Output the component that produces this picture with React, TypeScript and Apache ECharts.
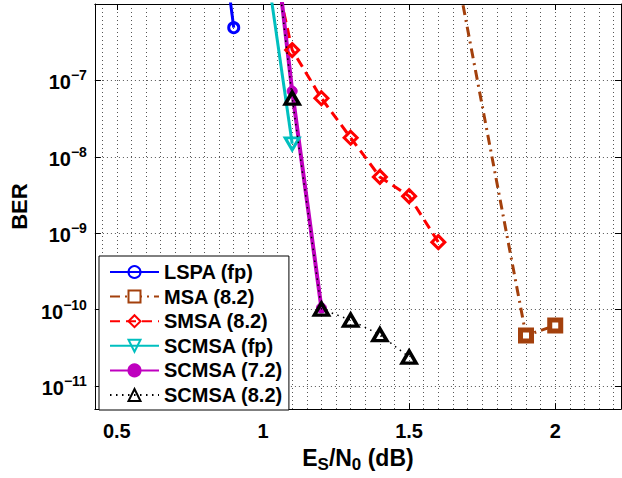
import React, { useEffect, useRef } from "react";
import * as echarts from "echarts";

// ---- data ----
const seriesNames = ["LSPA (fp)", "MSA (8.2)", "SMSA (8.2)", "SCMSA (fp)", "SCMSA (7.2)", "SCMSA (8.2)"];

const lspaX = [0.8, 0.9];
const lspaY = [4.7e-4, 4.9e-7];

const msaX = [1.6, 1.9, 2.0];
const msaY = [4.8e-5, 4.6e-11, 6.2e-11];

const smsaX = [1.0, 1.1, 1.2, 1.3, 1.4, 1.5, 1.6];
const smsaY = [1.3e-5, 2.5e-7, 5.85e-8, 1.78e-8, 5.46e-9, 3.06e-9, 7.65e-10];

const scmsaFpX = [1.0, 1.1];
const scmsaFpY = [6.8e-6, 1.48e-8];

const scmsa72X = [1.0, 1.1, 1.2];
const scmsa72Y = [1.5e-4, 7.25e-8, 1.05e-10];

const scmsa82X = [1.0, 1.1, 1.2, 1.3, 1.4, 1.5];
const scmsa82Y = [1.5e-4, 5.85e-8, 1.02e-10, 7.3e-11, 4.7e-11, 2.4e-11];

const xMin = 0.425;
const xMax = 2.225;
const yMin = 5e-12;
const yMax = 1e-6;
const minorMultipliers = [2, 3, 4, 5, 6, 7, 8, 9];
const decades = [-12, -11, -10, -9, -8, -7, -6];

const FONT = "Liberation Sans, Arial, Helvetica, sans-serif";

const zip = (xs: number[], ys: number[]) => xs.map((x, i) => [x, ys[i]]);

export default function App() {
  const ref = useRef<HTMLDivElement>(null);

  useEffect(() => {
    if (!ref.current) return;
    const chart = echarts.init(ref.current, undefined, { renderer: "svg" });

    const gridLine = { type: [1, 3] as number[], color: "#555", width: 1 };

    const minorYValues: number[] = [];
    decades.forEach((d) => {
      minorMultipliers.forEach((m) => {
        const v = m * Math.pow(10, d);
        if (v > yMin && v < yMax) minorYValues.push(v);
      });
    });

    const xAxisBase = {
      type: "value" as const,
      min: xMin,
      max: xMax,
      splitNumber: 4,
      axisLine: { show: true, onZero: false, lineStyle: { color: "#000", width: 1 } },
      axisTick: { show: true, inside: true, length: 6, lineStyle: { color: "#000", width: 1 } },
    };

    const yAxisBase = {
      type: "log" as const,
      logBase: 10,
      min: yMin,
      max: yMax,
      axisLine: { show: true, onZero: false, lineStyle: { color: "#000", width: 1 } },
      axisTick: { show: true, inside: true, length: 6, lineStyle: { color: "#000", width: 1 } },
    };

    const option: any = {
      animation: false,
      backgroundColor: "#fff",
      grid: { left: 90, right: 1, top: 4, bottom: 58, containLabel: false },
      legend: {
        orient: "vertical",
        left: 99,
        top: 256,
        data: seriesNames,
        backgroundColor: "#fff",
        borderColor: "#000",
        borderWidth: 1,
        borderRadius: 0,
        padding: [6, 6, 5, 10],
        itemGap: 4.6,
        itemWidth: 49,
        itemHeight: 15,
        textStyle: { fontSize: 20, fontWeight: "bold", color: "#000", fontFamily: FONT, lineHeight: 20 },
        selectedMode: false,
      },
      xAxis: [
        {
          ...xAxisBase,
          position: "bottom",
          name: "{b|E}{s|S}{b|/N}{s|0}{b| (dB)}",
          nameLocation: "middle",
          nameGap: 20,
          nameTextStyle: {
            rich: {
              b: { fontSize: 23, fontWeight: "bold", fontFamily: FONT, color: "#000", verticalAlign: "top", lineHeight: 27 },
              s: { fontSize: 17, fontWeight: "bold", fontFamily: FONT, color: "#000", verticalAlign: "bottom", lineHeight: 27 },
            },
          },
          axisLabel: {
            show: true,
            margin: 12,
            fontSize: 20,
            fontWeight: "bold",
            fontFamily: FONT,
            color: "#000",
            showMinLabel: false,
            showMaxLabel: false,
          },
          splitLine: { show: true, lineStyle: gridLine },
          minorTick: { show: false, splitNumber: 10 },
          minorSplitLine: { show: true, lineStyle: gridLine },
        },
        {
          ...xAxisBase,
          position: "top",
          axisLabel: { show: false },
          splitLine: { show: false },
        },
      ],
      yAxis: [
        {
          ...yAxisBase,
          position: "left",
          name: "BER",
          nameLocation: "middle",
          nameRotate: 90,
          nameGap: 62,
          nameTextStyle: { fontSize: 22, fontWeight: "bold", fontFamily: FONT, color: "#000" },
          axisLabel: {
            show: true,
            margin: 8,
            showMinLabel: false,
            showMaxLabel: false,
            formatter: (v: number) => {
              if (v >= yMax * 0.999 || v <= yMin * 1.001) return "";
              const e = Math.round(Math.log10(v));
              return "{b|10}{p|\u2212" + Math.abs(e) + "}";
            },
            rich: {
              b: { fontSize: 20, fontWeight: "bold", fontFamily: FONT, color: "#000", verticalAlign: "bottom", lineHeight: 24 },
              p: { fontSize: 14, fontWeight: "bold", fontFamily: FONT, color: "#000", verticalAlign: "top", lineHeight: 14 },
            },
          },
          splitLine: { show: true, lineStyle: gridLine },
          minorTick: { show: false },
          minorSplitLine: { show: false },
        },
        {
          ...yAxisBase,
          position: "right",
          axisLabel: { show: false },
          splitLine: { show: false },
        },
      ],
      series: [
        {
          name: "__minorGrid",
          type: "line",
          data: [],
          z: 1,
          silent: true,
          symbol: "none",
          markLine: {
            silent: true,
            symbol: "none",
            animation: false,
            label: { show: false },
            emphasis: { disabled: true },
            lineStyle: gridLine,
            data: minorYValues.map((v) => ({ yAxis: v })),
          },
        },
        {
          name: seriesNames[0],
          type: "line",
          data: zip(lspaX, lspaY),
          z: 3,
          symbol: "circle",
          symbolSize: 10,
          lineStyle: { color: "#0000ff", width: 3, type: "solid" },
          itemStyle: { color: "rgba(255,255,255,0)", borderColor: "#0000ff", borderWidth: 3 },
        },
        {
          name: seriesNames[1],
          type: "line",
          data: zip(msaX, msaY),
          z: 3,
          symbol: "rect",
          symbolSize: 11,
          lineStyle: { color: "#a3400c", width: 3, type: [10, 5, 2, 5] },
          itemStyle: { color: "#fff", borderColor: "#a3400c", borderWidth: 5 },
        },
        {
          name: seriesNames[2],
          type: "line",
          data: zip(smsaX, smsaY),
          z: 3,
          symbol: "diamond",
          symbolSize: 13,
          lineStyle: { color: "#ff0000", width: 3, type: [10, 6] },
          itemStyle: { color: "rgba(255,255,255,0)", borderColor: "#ff0000", borderWidth: 3 },
        },
        {
          name: seriesNames[3],
          type: "line",
          data: zip(scmsaFpX, scmsaFpY),
          z: 3,
          symbol: "triangle",
          symbolRotate: 180,
          symbolSize: [14, 12],
          lineStyle: { color: "#00bfbf", width: 3, type: "solid" },
          itemStyle: { color: "rgba(255,255,255,0)", borderColor: "#00bfbf", borderWidth: 3 },
        },
        {
          name: seriesNames[4],
          type: "line",
          data: zip(scmsa72X, scmsa72Y),
          z: 3,
          symbol: "circle",
          symbolSize: 10,
          lineStyle: { color: "#bf00bf", width: 4, type: "solid" },
          itemStyle: { color: "#bf00bf", borderColor: "#bf00bf", borderWidth: 1 },
        },
        {
          name: seriesNames[5],
          type: "line",
          data: zip(scmsa82X, scmsa82Y),
          z: 4,
          symbol: "triangle",
          symbolSize: [14, 12],
          lineStyle: { color: "#000", width: 1.5, type: [1.5, 4.5] },
          itemStyle: { color: "rgba(255,255,255,0)", borderColor: "#000", borderWidth: 3.5 },
        },
      ],
    };

    chart.setOption(option);
    return () => chart.dispose();
  }, []);

  return <div ref={ref} style={{ position: "absolute", left: 0, top: 0, width: 622, height: 478 }} />;
}
